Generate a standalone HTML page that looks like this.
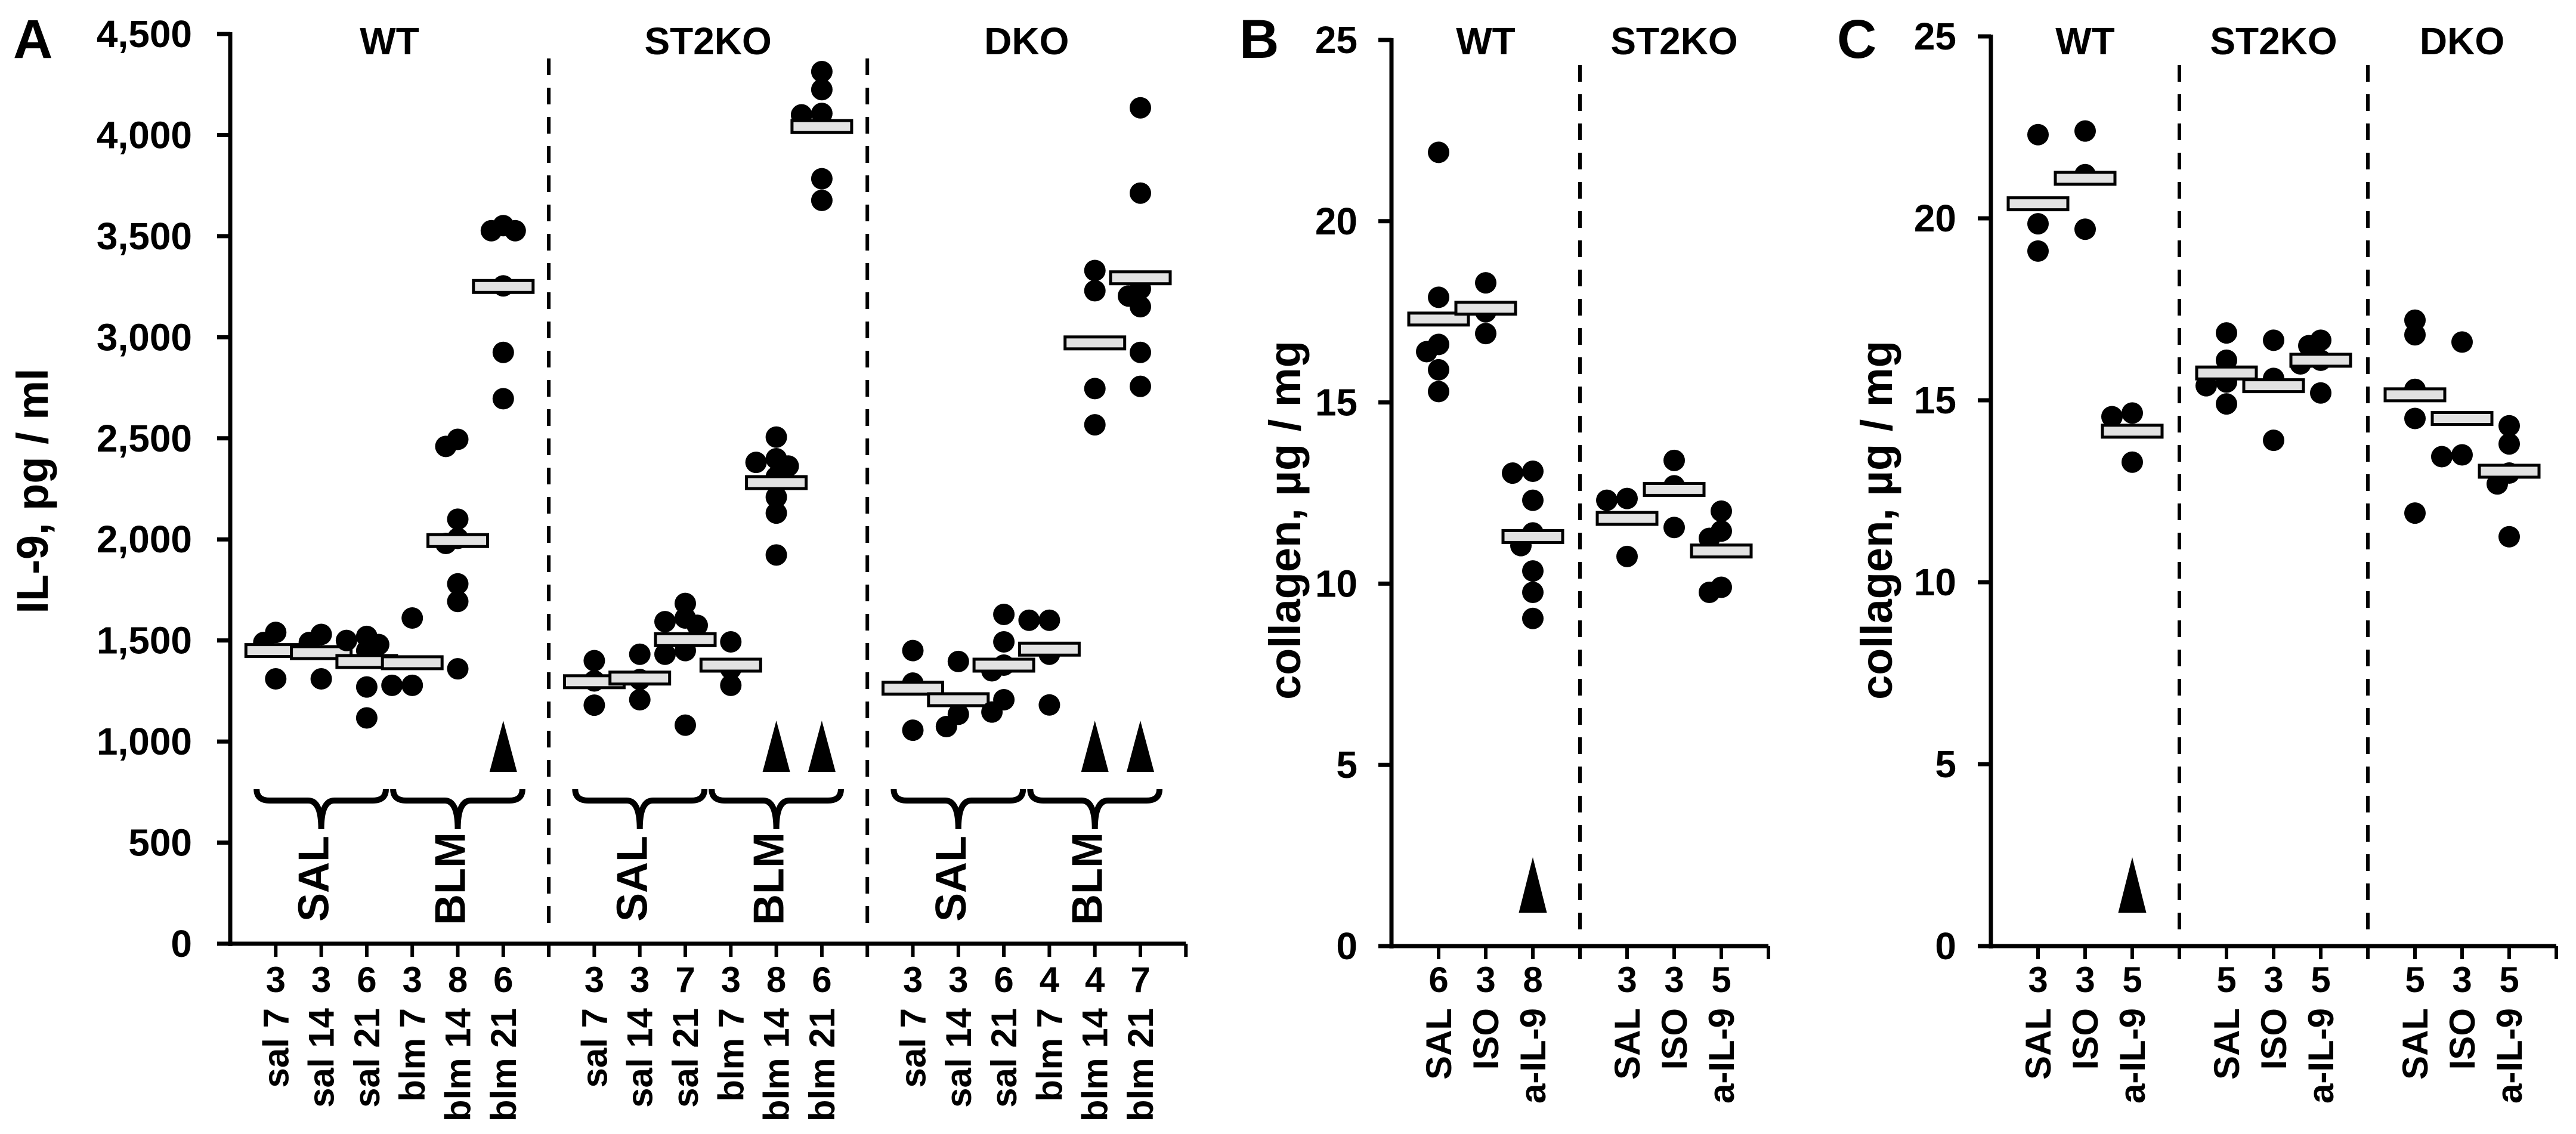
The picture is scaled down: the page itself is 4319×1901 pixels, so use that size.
<!DOCTYPE html>
<html><head><meta charset="utf-8"><style>
html,body{margin:0;padding:0;background:#fff;}
svg{display:block;font-family:"Liberation Sans",Arial,sans-serif;font-weight:bold;}
</style></head><body>
<svg id="fig" width="4319" height="1901" viewBox="0 0 4319 1901" xmlns="http://www.w3.org/2000/svg"></svg>
<script>
// ---------- Panel A data ----------
const aCats = ["sal 7","sal 14","sal 21","blm 7","blm 14","blm 21"];
const aGroups = ["WT","ST2KO","DKO"];
const aCounts = [[3,3,6,3,8,6],[3,3,7,3,8,6],[3,3,6,4,4,7]];
const aWT = [[1540,1490,1310],[1530,1490,1310],[1520,1500,1480,1450,1270,1117],[1611,1278,1278],[2495,2460,2100,2005,1980,1780,1693,1360],[3552,3527,3527,3254,2925,2696]];
const aWTmean = [1450,1440,1396,1390,1994,3251];
const aST2 = [[1400,1300,1180],[1432,1307,1207],[1683,1611,1593,1575,1450,1432,1081],[1493,1360,1278],[2506,2399,2381,2363,2309,2209,2130,1923],[4314,4225,4107,4100,3784,3677]];
const aST2mean = [1296,1314,1504,1378,2281,4042];
const aDKO = [[1450,1289,1056],[1396,1135,1074],[1629,1493,1378,1350,1207,1146],[1600,1600,1432,1181],[3330,3230,2746,2567],[4135,3713,3240,3204,3151,2925,2757]];
const aDKOmean = [1264,1207,1378,1457,2972,3294];
const aArrows = [[5],[4,5],[4,5]];
const aTicks = [0,500,1000,1500,2000,2500,3000,3500,4000,4500];
const aTickLabels = ["0","500","1,000","1,500","2,000","2,500","3,000","3,500","4,000","4,500"];
// ---------- Panel B data ----------
const bCats = ["SAL","ISO","a-IL-9"];
const bGroups = ["WT","ST2KO"];
const bCounts = [[6,3,8],[3,3,5]];
const bWT = [[21.9,17.9,16.6,16.4,15.9,15.3],[18.3,17.5,16.9],[13.1,13.05,12.3,11.4,11.05,10.35,9.76,9.04]];
const bWTmean = [17.3,17.6,11.3];
const bST2 = [[12.35,12.3,10.75],[13.4,12.7,11.55],[12.0,11.45,11.25,9.9,9.76]];
const bST2mean = [11.8,12.6,10.9];
const bArrows = [[2],[]];
// ---------- Panel C data ----------
const cGroups = ["WT","ST2KO","DKO"];
const cCounts = [[3,3,5],[5,3,5],[5,3,5]];
const cWT = [[22.3,19.85,19.1],[22.4,21.2,19.7],[14.65,14.55,13.3]];
const cWTmean = [20.4,21.1,14.15];
const cST2 = [[16.85,16.1,15.5,15.4,14.9],[16.65,15.6,13.9],[16.65,16.5,16.1,16.0,15.2]];
const cST2mean = [15.75,15.4,16.1];
const cDKO = [[17.2,16.8,15.3,14.5,11.9],[16.6,13.45,13.5],[14.3,13.8,13.0,12.7,11.25]];
const cDKOmean = [15.15,14.5,13.05];
const cArrows = [[2],[],[]];
const colTicks = [0,5,10,15,20,25];
const colTickLabels = ["0","5","10","15","20","25"];

const NS = "http://www.w3.org/2000/svg";
const svg = document.getElementById('fig');
function el(tag, attrs, parent, text){
  const e = document.createElementNS(NS, tag);
  for (const k in attrs) e.setAttribute(k, attrs[k]);
  if (text !== undefined) e.textContent = text;
  (parent||svg).appendChild(e);
  return e;
}

function panel(cfg){
  const g = el('g', {});
  
  
  const yScale = v => cfg.y0 - (v / cfg.max) * (cfg.y0 - cfg.yTop);
  const xSlot = k => cfg.x0 + cfg.step * k;
  const ya = el('line', {x1:cfg.x0, y1:cfg.yTop-3, x2:cfg.x0, y2:cfg.y0+4, stroke:'#000','stroke-width':7}, g);
  
  
  const xEnd = xSlot(cfg.nSlots + 1);
  const xa = el('line', {x1:cfg.x0-22, y1:cfg.y0, x2:xEnd, y2:cfg.y0, stroke:'#000','stroke-width':7}, g);
  
  
  cfg.ticks.forEach((t, i) => {
    const y = yScale(t);
    el('line', {x1:cfg.x0-22, y1:y, x2:cfg.x0, y2:y, stroke:'#000','stroke-width':7}, g);
    const tl = el('text', {x:cfg.labelRight, y:y+22, 'text-anchor':'end','font-size':64}, g, cfg.tickLabels[i]);
    
    
  });
  for (let k = 1; k <= cfg.nSlots + 1; k++) {
    el('line', {x1:xSlot(k), y1:cfg.y0, x2:xSlot(k), y2:cfg.y0+22, stroke:'#000','stroke-width':6}, g);
  }
  const yt = el('text', {x:0, y:0, 'text-anchor':'middle','font-size':74,
    transform:`translate(${cfg.titleX},${cfg.titleY}) rotate(-90)`}, g, cfg.yTitle);
  
  
  const lt = el('text', {x:cfg.letterX, y:97, 'font-size':92}, g, cfg.letter);
  
  
  const per = cfg.cats.length;
  cfg.groups.forEach((gname, gi) => {
    const base = gi * (per + 1) + 1;
    const mid = xSlot(base + (per - 1) / 2);
    const gt = el('text', {x:mid, y:91, 'text-anchor':'middle','font-size':64}, g, gname);
    
    
    if (gi > 0) {
      const dx = xSlot(base - 1);
      const dl = el('line', {x1:dx, y1:cfg.dashTop, x2:dx, y2:cfg.y0-25, stroke:'#000','stroke-width':6,'stroke-dasharray':'28 21'}, g);
      
      
    }
    const data = cfg.values[gi], means = cfg.means[gi];
    cfg.cats.forEach((cat, ci) => {
      const cx = xSlot(base + ci);
      const ct = el('text', {x:cx, y:1663, 'text-anchor':'middle','font-size':60}, g, String(cfg.counts[gi][ci]));
      
      
      const cl = el('text', {x:0, y:0, 'text-anchor':'end','font-size':60,
        transform:`translate(${cx+21},1690) rotate(-90)`}, g, cat);
      
      
      const placed = [];
      const r = 18;
      data[ci].slice().sort((a,b)=>b-a).forEach(v => {
        const y = yScale(v);
        const offs = [0,-20,20,-34,34];
        let ox = 0;
        for (const o of offs) {
          if (placed.every(p => Math.hypot(p[0]-o, p[1]-y) >= 2*r*0.6)) { ox = o; break; }
        }
        placed.push([ox, y]);
        const d = el('circle', {cx:cx+ox, cy:y, r:r, fill:'#000'}, g);
        
        
      });
      const my = yScale(means[ci]);
      const mb = el('rect', {x:cx-50, y:my-10, width:100, height:20, fill:'#e2e2e2', stroke:'#000','stroke-width':5}, g);
      
      
      if (cfg.arrows[gi].includes(ci)) {
        const w = cfg.triW/2;
        const tr = el('polygon', {points:`${cx},${cfg.triTop} ${cx+w},${cfg.triBot} ${cx-w},${cfg.triBot}`, fill:'#000'}, g);
        
        
      }
    });
    if (cfg.braces) {
      [["SAL",1],["BLM",4]].forEach(([lab, off]) => {
        const c = xSlot(base + off);
        const h = cfg.step * 1.42;
        const xl = c - h, xr = c + h;
        const top = 1323, bar = 1342, tip = 1390;
        const p = el('path', {d:`M${xl},${top} Q${xl},${bar} ${xl+22},${bar} L${c-22},${bar} Q${c},${bar} ${c},${tip} Q${c},${bar} ${c+22},${bar} L${xr-22},${bar} Q${xr},${bar} ${xr},${top}`,
          fill:'none', stroke:'#000','stroke-width':10}, g);
        
        
        const bt = el('text', {x:0, y:0, 'text-anchor':'middle','font-size':72,
          transform:`translate(${c+12},${1473}) rotate(-90)`}, g, lab);
        
        
      });
    }
  });
}

panel({name:'panel-a', letter:'A', letterX:22, x0:386, step:76.3, nSlots:20, y0:1582, yTop:57, max:4500,
  ticks:aTicks, tickLabels:aTickLabels, labelRight:322, yTitle:'IL-9, pg / ml', titleX:80, titleY:823,
  cats:aCats, groups:aGroups, counts:aCounts, values:[aWT,aST2,aDKO], means:[aWTmean,aST2mean,aDKOmean],
  arrows:aArrows, triTop:1208, triBot:1294, triW:46, dashTop:98, braces:true});
panel({name:'panel-b', letter:'B', letterX:2078, x0:2333, step:79, nSlots:7, y0:1586, yTop:67, max:25,
  ticks:colTicks, tickLabels:colTickLabels, labelRight:2276, yTitle:'collagen, µg / mg', titleX:2180, titleY:872,
  cats:bCats, groups:bGroups, counts:bCounts, values:[bWT,bST2], means:[bWTmean,bST2mean],
  arrows:bArrows, triTop:1437, triBot:1530, triW:47, dashTop:109, braces:false});
panel({name:'panel-c', letter:'C', letterX:3080, x0:3338, step:79, nSlots:11, y0:1586, yTop:61, max:25,
  ticks:colTicks, tickLabels:colTickLabels, labelRight:3280, yTitle:'collagen, µg / mg', titleX:3172, titleY:872,
  cats:bCats, groups:cGroups, counts:cCounts, values:[cWT,cST2,cDKO], means:[cWTmean,cST2mean,cDKOmean],
  arrows:cArrows, triTop:1437, triBot:1530, triW:47, dashTop:109, braces:false});
</script>
</body></html>
